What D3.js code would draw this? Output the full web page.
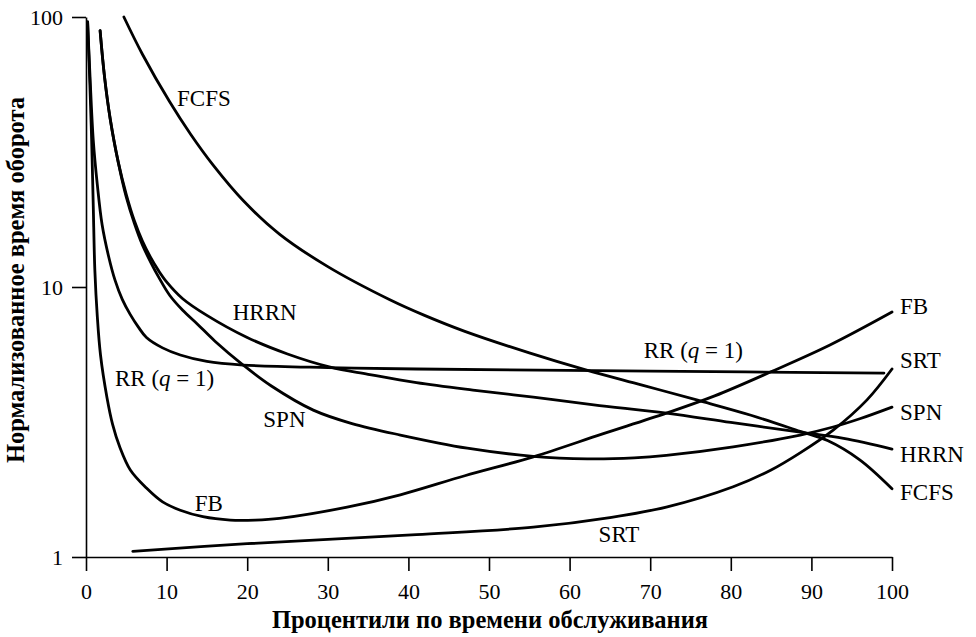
<!DOCTYPE html>
<html><head><meta charset="utf-8">
<script src="https://cdn.jsdelivr.net/npm/d3@7"></script>
<style>
body{margin:0;background:#fff;}
svg{display:block;}
text{font-family:"Liberation Serif","Times New Roman",serif;fill:#000;}
</style></head>
<body><svg id="chart" width="976" height="637"></svg>
<script>
// x = percentile of service time, y = normalized turnaround time
const fcfs = [[4.7,100],[7,72.8],[10.4,48.4],[13,36.7],[15.8,28.2],[19.5,20.9],[24,15.7],[30,11.9],[37.7,8.97],[42,7.85],[47,6.85],[55,5.7],[62,4.93],[69,4.33],[76,3.8],[82.5,3.35],[88.6,2.92],[92,2.7],[96,2.29],[100,1.79]];
const hrrn = [[1.75,89],[2.3,60],[3,42],[4,29],[5,22],[6,17.6],[7,14.8],[8,12.9],[9,11.5],[10,10.45],[12,9.05],[15,7.85],[20,6.5],[25,5.65],[30.3,5.05],[35,4.75],[41,4.42],[48,4.15],[55.5,3.91],[63,3.66],[72,3.41],[80,3.15],[88.6,2.9],[94,2.75],[100,2.51]];
const spn = [[1.75,89],[2.3,60],[3,42],[4,29],[5,21.5],[6,17.2],[7,14.3],[8,12.4],[9,10.9],[10.4,9.3],[12,8.2],[13.8,7.3],[16,6.3],[19.5,5.14],[23,4.3],[28.2,3.5],[33,3.12],[39,2.83],[47.3,2.53],[55.5,2.36],[62.2,2.31],[68,2.33],[72,2.38],[80.3,2.56],[88.6,2.83],[92.7,3.03],[96,3.25],[100,3.59]];
const rr = [[0.2,96],[0.5,60],[0.9,35],[1.4,24],[2.0,17],[2.8,13],[3.6,10.6],[4.5,9.0],[5.5,7.9],[6.5,7.1],[7.5,6.5],[9.5,5.95],[11.7,5.6],[15,5.3],[19.5,5.14],[30,5.03],[41,4.97],[70,4.88],[99,4.8]];
const fb = [[0.2,96],[0.45,60],[0.7,35],[0.9,20],[1.1,11.5],[1.4,7.8],[1.8,5.6],[2.6,3.9],[3.3,3.1],[4.2,2.55],[5.5,2.1],[7.5,1.8],[9.5,1.6],[11.7,1.49],[14.5,1.41],[17.9,1.37],[21,1.37],[24,1.39],[32.4,1.53],[39,1.70],[47,2.0],[55.5,2.35],[64,2.85],[72,3.41],[78,3.95],[84.9,4.84],[92.3,6.1],[100,8.08]];
const srt = [[5.8,1.05],[20,1.12],[41,1.21],[55.5,1.29],[65,1.4],[72,1.53],[80.3,1.82],[85,2.1],[88.6,2.43],[92.7,2.95],[96.9,3.82],[100,4.97]];

const xTicks = [0,10,20,30,40,50,60,70,80,90,100];
const yTicks = [1,10,100];
const xTitle = "Процентили по времени обслуживания";
const yTitle = "Нормализованное время оборота";

// label anchors in data units (x, y) with names
const labelNames = ["FCFS","HRRN","RR","SPN","FB","SRT","RR","FB","SRT","SPN","HRRN","FCFS"];
const labelX = [11.3,18.2,3.6,22.0,13.5,63.6,69.2,101,101,101,101,101];
const labelY = [46.8,7.55,4.30,3.03,1.48,1.137,5.46,7.94,5.01,3.22,2.25,1.63];

const svg = d3.select("#chart");
const x = d3.scaleLinear().domain([0,100]).range([86,892]);
const y = d3.scaleLog().domain([1,100]).range([557,17]);

const line = d3.line().x(d=>x(d[0])).y(d=>y(d[1])).curve(d3.curveCatmullRom.alpha(0.5));
[fcfs,hrrn,spn,rr,fb,srt].forEach(s=>{
  svg.append("path").datum(s).attr("d",line)
    .attr("fill","none").attr("stroke","#000").attr("stroke-width",2.8)
    .attr("stroke-linecap","round").attr("stroke-linejoin","round");
});

const xa = svg.append("g").attr("transform","translate(0,557)")
  .call(d3.axisBottom(x).tickValues(xTicks).tickSize(14).tickSizeOuter(0).tickPadding(12));
const ya = svg.append("g").attr("transform","translate(86,0)")
  .call(d3.axisLeft(y).tickValues(yTicks).tickFormat(d3.format("d")).tickSize(14).tickSizeOuter(0).tickPadding(9));
[xa,ya].forEach(g=>{
  g.selectAll("path,line").attr("stroke","#000").attr("stroke-width",1.6);
  g.selectAll("text").style("font-family","'Liberation Serif',serif").style("font-size","22px").attr("fill","#000");
});

svg.append("text").attr("x",490).attr("y",628).attr("text-anchor","middle")
  .style("font-size","24.5px").style("font-weight","bold").text(xTitle);
svg.append("text").attr("transform","translate(24,280) rotate(-90)").attr("text-anchor","middle")
  .style("font-size","24.5px").style("font-weight","bold").text(yTitle);

labelNames.forEach((n,i)=>{
  const t = svg.append("text").attr("x",x(labelX[i])).attr("y",y(labelY[i])).style("font-size","23px");
  if(n==="RR"){
    t.append("tspan").text("RR (");
    t.append("tspan").style("font-style","italic").text("q");
    t.append("tspan").text(" = 1)");
  } else t.text(n);
});
</script></body></html>
